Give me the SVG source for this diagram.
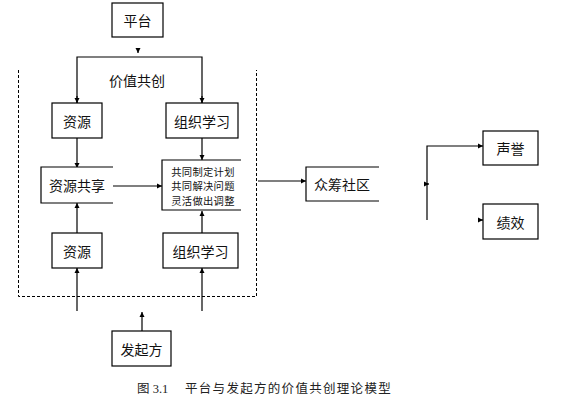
<svg xmlns="http://www.w3.org/2000/svg" width="563" height="404" viewBox="0 0 563 404">
<defs>
<marker id="ah" markerWidth="6" markerHeight="6" refX="5" refY="3" orient="auto" markerUnits="userSpaceOnUse">
<path d="M0,0.5 L5,3 L0,5.5 Z" fill="#000"/>
</marker>
<style>
.box{fill:#fff;stroke:#000;stroke-width:1.2}
.open{fill:#fff;stroke:#000;stroke-width:1.2}
.t{font-family:"Noto Sans CJK SC","Liberation Sans",sans-serif;font-size:14px;fill:#111;text-anchor:middle;dominant-baseline:central}
.s{font-family:"Noto Sans CJK SC","Liberation Sans",sans-serif;font-size:10.3px;letter-spacing:0.3px;fill:#111;text-anchor:middle;dominant-baseline:central}
.c{stroke:#000;stroke-width:1.2;fill:none}
.cap{font-family:"Liberation Serif","Noto Sans CJK SC",serif;font-size:12.5px;fill:#222}
</style>
</defs>
<rect width="563" height="404" fill="#fff"/>
<path d="M18.5,70 L18.5,296.5 L256.5,296.5 L256.5,70" fill="none" stroke="#000" stroke-width="1" stroke-dasharray="3,2"/>
<g id="connectors">
<path class="c" d="M138,50 L138,53" marker-end="url(#ah)"/>
<path class="c" d="M77,103 L77,57 L202,57 L202,103"/>
<path class="c" d="M77,96 L77,103" marker-end="url(#ah)"/>
<path class="c" d="M202,96 L202,103" marker-end="url(#ah)"/>
<path class="c" d="M77,138 L77,168" marker-end="url(#ah)"/>
<path class="c" d="M202,138 L202,160" marker-end="url(#ah)"/>
<path class="c" d="M113,186 L162,186" marker-end="url(#ah)"/>
<path class="c" d="M77,233 L77,203" marker-end="url(#ah)"/>
<path class="c" d="M202,233 L202,211" marker-end="url(#ah)"/>
<path class="c" d="M77,311 L77,268" marker-end="url(#ah)"/>
<path class="c" d="M202,311 L202,268" marker-end="url(#ah)"/>
<path class="c" d="M142,331 L142,312" marker-end="url(#ah)"/>
<path class="c" d="M258,181 L306,181" marker-end="url(#ah)"/>
<path class="c" d="M427,220 L427,146 L483,146" marker-end="url(#ah)"/>
<path class="c" d="M426,184 L429,184" marker-end="url(#ah)"/>
<path class="c" d="M480,220 L483,220" marker-end="url(#ah)"/>
</g>
<g id="platform"><rect class="box" x="112" y="3" width="51" height="34"/><text class="t" x="137.5" y="20">平台</text></g>
<text id="label-cocreate" class="t" x="137" y="80">价值共创</text>
<g id="resource-top"><rect class="box" x="52" y="103" width="50" height="35"/><text class="t" x="77" y="120.5">资源</text></g>
<g id="learning-top"><rect class="box" x="166" y="103" width="72" height="35"/><text class="t" x="202" y="120.5">组织学习</text></g>
<g id="resource-share"><path class="open" d="M113,167 L41,167 L41,203 L113,203"/><text class="t" x="77" y="185">资源共享</text></g>
<g id="center"><path class="open" d="M241,160 L162,160 L162,210 L241,210"/><text class="s" x="203" y="171">共同制定计划</text><text class="s" x="203" y="185.5">共同解决问题</text><text class="s" x="203" y="200">灵活做出调整</text></g>
<g id="resource-bottom"><rect class="box" x="52" y="233" width="50" height="35"/><text class="t" x="77" y="250.5">资源</text></g>
<g id="learning-bottom"><rect class="box" x="163" y="233" width="75" height="35"/><text class="t" x="200.5" y="250.5">组织学习</text></g>
<g id="initiator"><rect class="box" x="112" y="331" width="59" height="35"/><text class="t" x="141.5" y="348.5">发起方</text></g>
<g id="community"><path class="open" d="M379,167 L306,167 L306,201 L379,201"/><text class="t" x="342" y="184">众筹社区</text></g>
<g id="reputation"><rect class="box" x="483" y="131" width="55" height="34"/><text class="t" x="510.5" y="148">声誉</text></g>
<g id="performance"><rect class="box" x="483" y="204" width="55" height="35"/><text class="t" x="510.5" y="221.5">绩效</text></g>
<text class="cap" x="137" y="393">图 3.1<tspan x="185" letter-spacing="1.3">平台与发起方的价值共创理论模型</tspan></text>
</svg>
